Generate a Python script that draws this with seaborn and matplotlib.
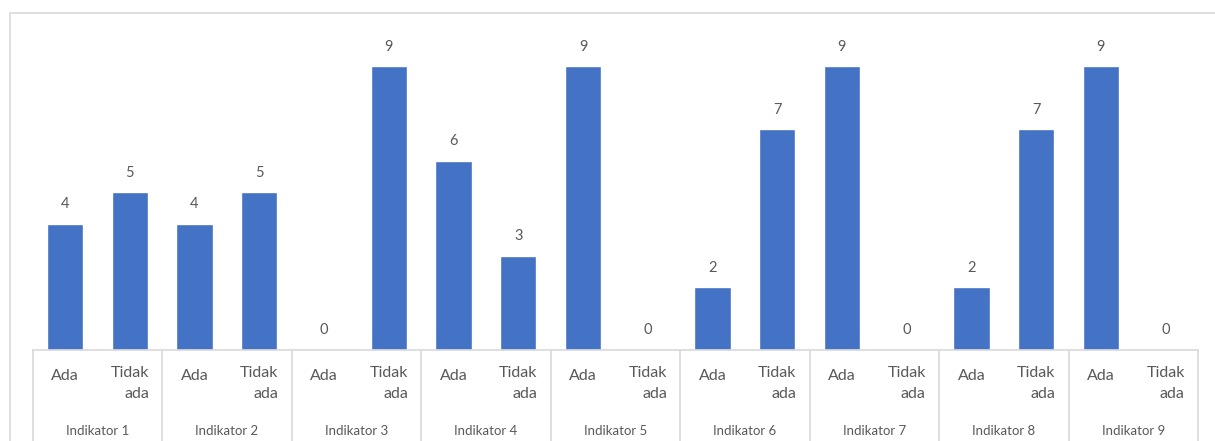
import matplotlib
matplotlib.use("Agg")
import matplotlib.pyplot as plt
import seaborn as sns
import pandas as pd
from matplotlib.patches import Rectangle
from matplotlib.lines import Line2D

indikators = ["Indikator 1", "Indikator 2", "Indikator 3", "Indikator 4", "Indikator 5",
              "Indikator 6", "Indikator 7", "Indikator 8", "Indikator 9"]
sub_labels = ["Ada", "Tidak\nada"]
ada_values = [4, 4, 0, 6, 9, 2, 9, 2, 9]
tidak_ada_values = [5, 5, 9, 3, 0, 7, 0, 7, 0]

rows = []
for i, ind in enumerate(indikators):
    rows.append({"key": f"{ind}|Ada", "value": ada_values[i]})
    rows.append({"key": f"{ind}|Tidak ada", "value": tidak_ada_values[i]})
df = pd.DataFrame(rows)

sns.set_theme(style="white")
plt.rcParams["font.family"] = ["Lato", "DejaVu Sans"]

W, H = 1215, 441
fig = plt.figure(figsize=(W / 100, H / 100), dpi=100)
fig.patch.set_facecolor("white")

# outer chart border
fig.patches.append(Rectangle((10 / W, -0.05), (W - 8) / W, 1 - 13 / H + 0.05,
                             transform=fig.transFigure, fill=False,
                             edgecolor="#d9d9d9", linewidth=1.2))

left, right = 32.7, 1198
bottom_px, top_px = 350, 30
ax = fig.add_axes([left / W, 1 - bottom_px / H, (right - left) / W, (bottom_px - top_px) / H])
ax.set_facecolor("none")

sns.barplot(data=df, x="key", y="value", color="#4472C4", width=0.56,
            saturation=1, ax=ax, errorbar=None)

ax.set_ylim(0, (bottom_px - top_px) / 31.5)
ax.set_xlim(-0.5, len(df) - 0.5)
for c in ax.containers:
    ax.bar_label(c, padding=9, fontsize=10.5, color="#595959")

ax.set_xticks([])
ax.set_yticks([])
ax.set_xlabel("")
ax.set_ylabel("")
for s in ["top", "left", "right"]:
    ax.spines[s].set_visible(False)
ax.spines["bottom"].set_color("#d9d9d9")
ax.spines["bottom"].set_linewidth(1.2)

ax_h = bottom_px - top_px
trans = ax.get_xaxis_transform()
txt_color = "#595959"
for i, ind in enumerate(indikators):
    x0 = 2 * i
    ax.text(x0, -(376 - bottom_px) / ax_h, "Ada", transform=trans, ha="center", va="center",
            fontsize=11.5, color=txt_color, clip_on=False)
    ax.text(x0 + 1, -(366 - bottom_px) / ax_h, "Tidak\nada", transform=trans, ha="center", va="top",
            multialignment="right", fontsize=11.5, color=txt_color, clip_on=False, linespacing=1.6)
    ax.text(x0 + 0.5, -(431 - bottom_px) / ax_h, ind, transform=trans, ha="center", va="center",
            fontsize=9.5, color=txt_color, clip_on=False)

for b in range(len(indikators) + 1):
    xb = 2 * b - 0.5
    ax.add_line(Line2D([xb, xb], [0, -(H + 5 - bottom_px) / ax_h], transform=trans,
                       color="#d9d9d9", linewidth=1.2, clip_on=False))

fig.savefig("out.png", dpi=100, facecolor="white")
